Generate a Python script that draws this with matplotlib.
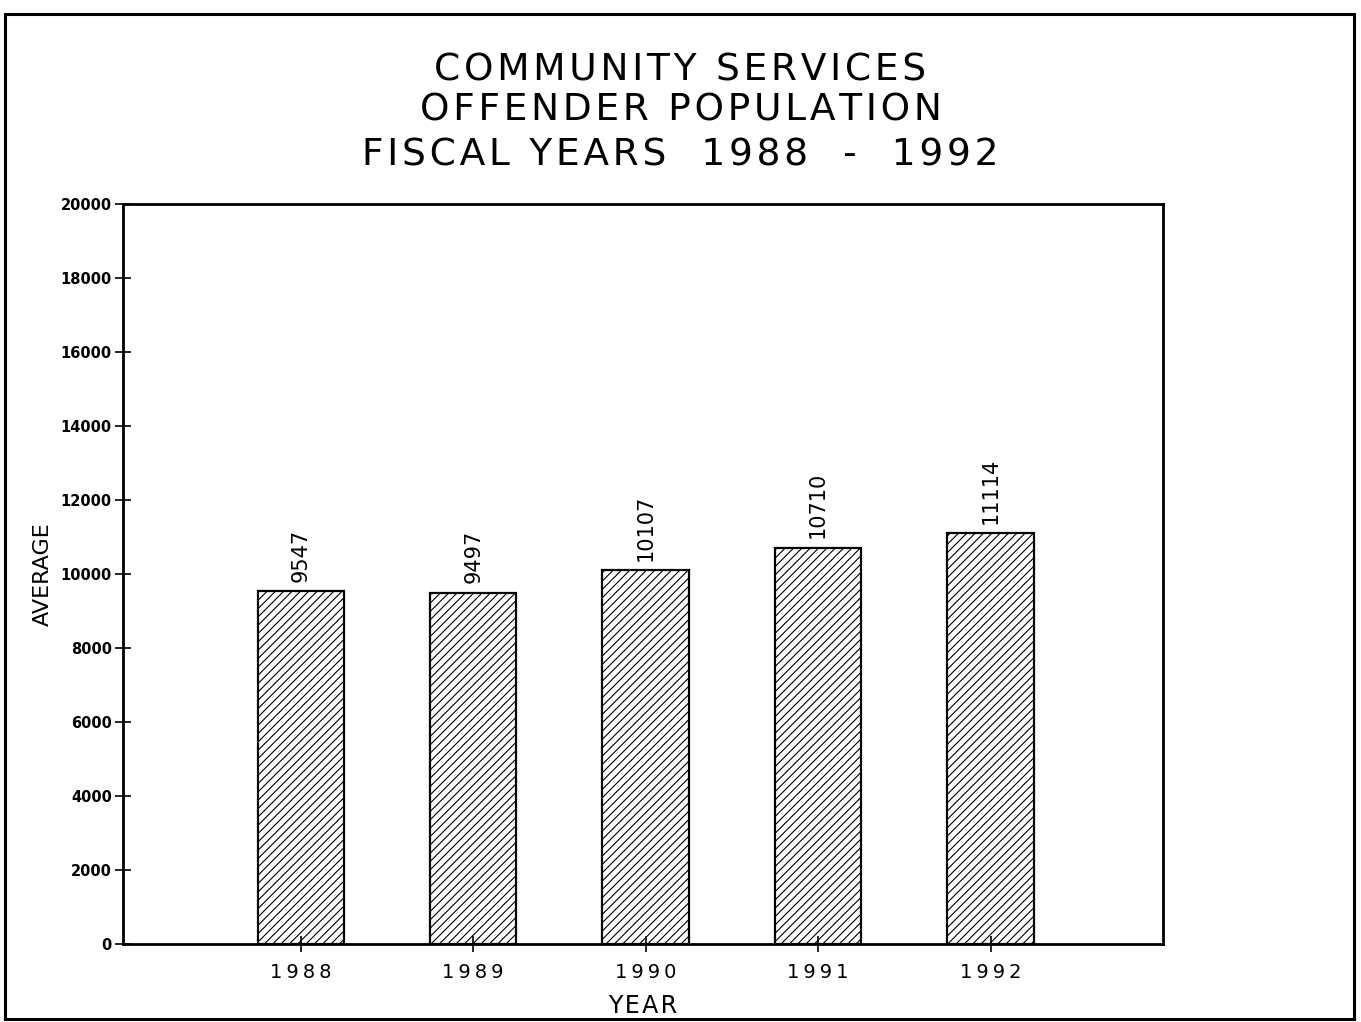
import matplotlib.pyplot as plt
from matplotlib.patches import Rectangle

years = ['1988', '1989', '1990', '1991', '1992']
average = [9547, 9497, 10107, 10710, 11114]
y_ticks = [0, 2000, 4000, 6000, 8000, 10000, 12000, 14000, 16000, 18000, 20000]

title_lines = ['COMMUNITY SERVICES', 'OFFENDER POPULATION', 'FISCAL YEARS  1988  -  1992']

HAIR = '\u200a'


def spaced(s, gap=1):
    # widen letter spacing with hair spaces
    return (HAIR * gap).join(s)


plt.rcParams['hatch.linewidth'] = 0.8

fig = plt.figure(figsize=(13.61, 10.22), dpi=100)

# border round the whole page
fig.patches.append(Rectangle((0.004, 0.003), 0.991, 0.983, transform=fig.transFigure,
                             fill=False, edgecolor='black', linewidth=2.2))

ax = fig.add_axes([0.0904, 0.0763, 0.7641, 0.7241])

x = list(range(len(years)))
ax.bar(x, average, width=0.5, color='white', edgecolor='black', hatch='////', linewidth=1.6)

for xi, v in zip(x, average):
    ax.text(xi, v + 250, str(v), rotation=90, ha='center', va='bottom', fontsize=15)

ax.set_xlim(-1.03, 5.0)
ax.set_ylim(0, 20000)
ax.set_yticks(y_ticks)
ax.set_yticklabels([str(t) for t in y_ticks], fontsize=10.5, fontweight='bold')
ax.set_xticks(x)
ax.set_xticklabels([spaced(y, 2) for y in years], fontsize=14)
ax.tick_params(axis='both', direction='inout', length=12, width=1.2)
ax.tick_params(axis='y', pad=2)
ax.tick_params(axis='x', pad=8)

for s in ax.spines.values():
    s.set_linewidth(2)

ax.set_xlabel(spaced('YEAR'), fontsize=17, labelpad=8)
ax.set_ylabel('AVERAGE', fontsize=16, labelpad=6)

for y, line in zip([0.931, 0.8915, 0.848], title_lines):
    fig.text(0.5, y, spaced(line), ha='center', va='center', fontsize=27)

fig.savefig('out.png', dpi=100)
